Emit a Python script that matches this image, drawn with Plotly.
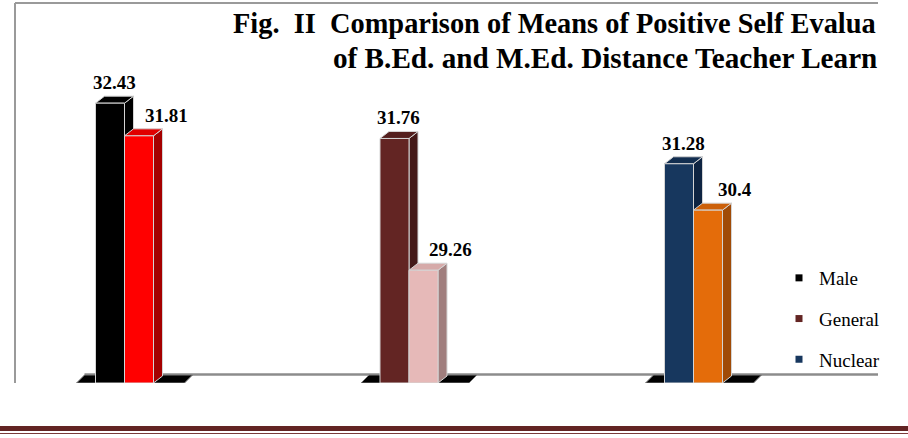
import plotly.graph_objects as go

# ---------------- data ----------------
group_labels = ["Male", "General", "Nuclear"]
first_values = [32.43, 31.76, 31.28]
second_values = [31.81, 29.26, 30.40]
first_colors = ["#000000", "#632523", "#17375E"]
second_colors = ["#FF0000", "#E6B9B8", "#E46C0A"]
first_side = ["#000000", "#451918", "#0E2442"]
second_side = ["#A50000", "#A07E7D", "#A04B07"]
first_top = ["#000000", "#541F1E", "#122E50"]
second_top = ["#E00000", "#D6AAA9", "#CC6009"]
title_line1 = "<b>Fig.\u00a0 II\u00a0 Comparison of Means of Positive Self Evalua</b>"
title_line2 = "<b>of B.Ed. and M.Ed. Distance Teacher Learn</b>"

# ---------------- geometry helpers ----------------
W, H = 908, 438
ML, MR, MT, MB = 15, 0, 3, 55
FRAME_RIGHT = 878
plot_w = W - ML - MR
plot_h = H - MT - MB
PX_PER_X = 284.5
PX_PER_Y = 52.7
Y0 = 27.12
ux = 1.0 / PX_PER_X
uy = 1.0 / PX_PER_Y
x_left = -(124.5 - ML) * ux
x_right = x_left + plot_w * ux
x_frame_right = x_left + (FRAME_RIGHT - ML) * ux
y_top = Y0 + plot_h * uy

BAR_W = 29 * ux
DX = 9 * ux
DY = 7 * uy
positions = list(range(len(group_labels)))

SERIF = "Liberation Serif, Times New Roman, serif"
EDGE = "#d4d4d4"

fig = go.Figure()


def poly(pts, color, edge=EDGE):
    xs = [p[0] for p in pts] + [pts[0][0]]
    ys = [p[1] for p in pts] + [pts[0][1]]
    fig.add_trace(go.Scatter(x=xs, y=ys, mode="lines", fill="toself",
                             fillcolor=color, line=dict(color=edge, width=1),
                             hoverinfo="skip", showlegend=False))


# floor slabs under each group
for c in positions:
    poly([(c - 48 * ux, Y0), (c + 60 * ux, Y0),
          (c + 68 * ux, Y0 + 8 * uy), (c - 40 * ux, Y0 + 8 * uy)],
         "#000000", edge="#7f7f7f")


def bar3d(xl, xr, v, front, side, top):
    poly([(xr, Y0), (xr + DX, Y0 + DY), (xr + DX, v + DY), (xr, v)], side)
    poly([(xl, v), (xl + DX, v + DY), (xr + DX, v + DY), (xr, v)], top)
    poly([(xl, Y0), (xr, Y0), (xr, v), (xl, v)], front)


for i, c in enumerate(positions):
    bar3d(c - BAR_W, c, first_values[i], first_colors[i], first_side[i], first_top[i])
    bar3d(c, c + BAR_W, second_values[i], second_colors[i], second_side[i], second_top[i])

# legend entries
for i, name in enumerate(group_labels):
    fig.add_trace(go.Scatter(x=[None], y=[None], mode="markers", name=name,
                             legendgroup=str(i),
                             marker=dict(symbol="square", size=7, color=first_colors[i],
                                         line=dict(width=0))))

annotations = []
# value labels
for i, c in enumerate(positions):
    annotations.append(dict(x=c - BAR_W / 2 + 4 * ux, y=first_values[i] + DY,
                            text="<b>%s</b>" % f"{first_values[i]:g}",
                            showarrow=False, xanchor="center", yanchor="bottom", yshift=1,
                            font=dict(family=SERIF, size=19, color="#000000")))
    annotations.append(dict(x=c + BAR_W / 2 + 27 * ux, y=second_values[i] + DY,
                            text="<b>%s</b>" % f"{second_values[i]:g}",
                            showarrow=False, xanchor="center", yanchor="bottom", yshift=1,
                            font=dict(family=SERIF, size=19, color="#000000")))


def px_to_paper_x(p):
    return (p - ML) / plot_w


def px_to_paper_y(p):
    return (H - MB - p) / plot_h


annotations.append(dict(x=px_to_paper_x(231), y=px_to_paper_y(24), xref="paper", yref="paper",
                        text=title_line1, showarrow=False, xanchor="left", yanchor="middle",
                        font=dict(family=SERIF, size=28.4, color="#000000")))
annotations.append(dict(x=px_to_paper_x(331), y=px_to_paper_y(58.5), xref="paper", yref="paper",
                        text=title_line2, showarrow=False, xanchor="left", yanchor="middle",
                        font=dict(family=SERIF, size=29.2, color="#000000")))

shapes = [
    # back floor line
    dict(type="line", xref="x", yref="y", x0=-40 * ux, x1=x_frame_right,
         y0=Y0 + 8.5 * uy, y1=Y0 + 8.5 * uy, line=dict(color="#8c8c8c", width=2.5),
         layer="below"),
    # chart frame (top and left)
    dict(type="line", xref="paper", yref="paper", x0=0, x1=px_to_paper_x(FRAME_RIGHT),
         y0=1, y1=1, line=dict(color="#9a9a9a", width=2)),
    dict(type="line", xref="paper", yref="paper", x0=0, x1=0, y0=0, y1=1,
         line=dict(color="#9a9a9a", width=2)),
    # page rule at the bottom
    dict(type="rect", xref="paper", yref="paper", x0=px_to_paper_x(0), x1=px_to_paper_x(W),
         y0=px_to_paper_y(431), y1=px_to_paper_y(426), fillcolor="#622423",
         line=dict(width=0)),
    dict(type="line", xref="paper", yref="paper", x0=px_to_paper_x(0), x1=px_to_paper_x(W),
         y0=px_to_paper_y(433.5), y1=px_to_paper_y(433.5), line=dict(color="#7b3b3a", width=1)),
]

fig.update_layout(
    width=W, height=H,
    margin=dict(l=ML, r=MR, t=MT, b=MB, pad=0, autoexpand=False),
    paper_bgcolor="#ffffff", plot_bgcolor="#ffffff",
    xaxis=dict(range=[x_left, x_right], visible=False, fixedrange=True),
    yaxis=dict(range=[Y0, y_top], visible=False, fixedrange=True),
    showlegend=True,
    legend=dict(xref="container", yref="container", x=779 / W, y=1 - 259 / H,
                xanchor="left", yanchor="top", bgcolor="rgba(0,0,0,0)",
                font=dict(family=SERIF, size=19, color="#000000"),
                tracegroupgap=13, itemwidth=30),
    annotations=annotations,
    shapes=shapes,
)

fig.write_html("out.html")
